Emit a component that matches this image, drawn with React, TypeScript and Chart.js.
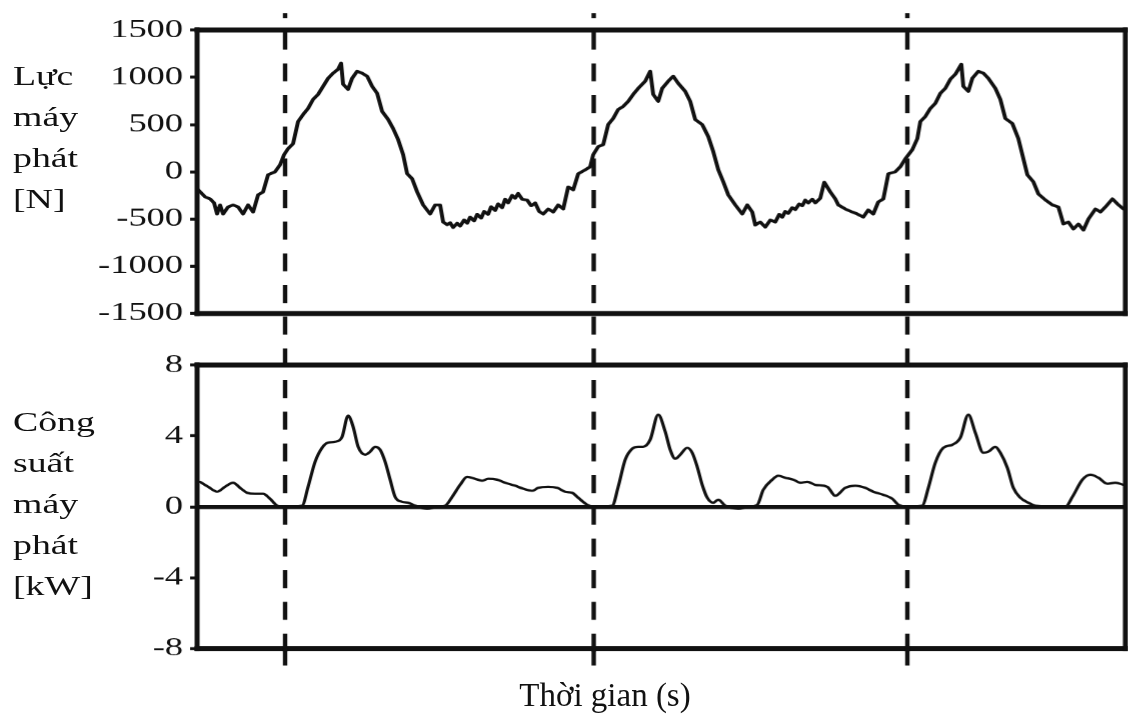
import { useEffect, useRef } from "react";
import { Chart, registerables } from "chart.js";

Chart.register(...registerables);

// Generator force, sampled time (s) and value (N)
const FORCE_T = [
  0.01, 0.08, 0.13, 0.17, 0.2, 0.23, 0.26, 0.31, 0.36, 0.41, 0.46, 0.51, 0.56, 0.61, 0.66, 0.71, 0.78, 0.83, 0.87, 0.91,
  0.96, 1.01, 1.06, 1.11, 1.16, 1.21, 1.26, 1.31, 1.36, 1.41, 1.44, 1.46, 1.51, 1.55, 1.6, 1.65, 1.7, 1.75, 1.8, 1.85,
  1.91, 1.96, 2.01, 2.06, 2.1, 2.15, 2.2, 2.26, 2.33, 2.38, 2.43, 2.46, 2.5, 2.53, 2.56, 2.6, 2.63, 2.67, 2.7, 2.73,
  2.77, 2.8, 2.84, 2.87, 2.91, 2.94, 2.98, 3.01, 3.05, 3.08, 3.11, 3.15, 3.18, 3.21, 3.25, 3.3, 3.34, 3.38, 3.42, 3.46,
  3.51, 3.56, 3.61, 3.66, 3.71, 3.76, 3.81, 3.88, 3.93, 3.96, 4.01, 4.06, 4.11, 4.16, 4.21, 4.26, 4.31, 4.36, 4.41, 4.48,
  4.53, 4.56, 4.61, 4.65, 4.71, 4.76, 4.81, 4.88, 4.93, 4.98, 5.05, 5.11, 5.16, 5.21, 5.26, 5.31, 5.38, 5.45, 5.5, 5.55,
  5.58, 5.63, 5.68, 5.73, 5.78, 5.82, 5.85, 5.88, 5.91, 5.95, 5.98, 6.02, 6.05, 6.08, 6.11, 6.15, 6.18, 6.23, 6.27, 6.33,
  6.38, 6.41, 6.48, 6.55, 6.6, 6.66, 6.71, 6.76, 6.81, 6.86, 6.91, 6.98, 7.03, 7.08, 7.15, 7.2, 7.23, 7.28, 7.33, 7.38,
  7.43, 7.48, 7.53, 7.58, 7.64, 7.66, 7.71, 7.75, 7.81, 7.86, 7.91, 7.98, 8.03, 8.08, 8.15, 8.21, 8.26, 8.3, 8.36, 8.41,
  8.48, 8.55, 8.61, 8.66, 8.71, 8.76, 8.81, 8.86, 8.91, 8.98, 9.03, 9.08, 9.15, 9.2, 9.26,
];
const FORCE_N = [
  -190, -266, -287, -330, -447, -351, -447, -372, -351, -372, -447, -351, -426, -245, -213, -32, 0, 74, 181, 245,
  298, 532, 606, 670, 766, 819, 904, 989, 1043, 1085, 1149, 926, 872, 989, 1064, 1043, 1011, 904, 830, 638,
  553, 457, 340, 181, -21, -74, -213, -351, -447, -351, -351, -532, -560, -540, -590, -545, -575, -510, -545, -480,
  -520, -450, -490, -420, -450, -370, -410, -340, -380, -290, -330, -250, -280, -230, -290, -300, -360, -330, -420, -447,
  -394, -426, -351, -394, -160, -192, -21, 21, 53, 181, 266, 287, 500, 564, 660, 692, 745, 819, 883, 958,
  1064, 819, 745, 883, 958, 1011, 936, 851, 745, 553, 500, 372, 213, 21, -106, -245, -351, -447, -351, -426,
  -564, -532, -585, -511, -532, -450, -480, -420, -440, -380, -400, -340, -360, -300, -330, -290, -330, -280, -110, -213,
  -287, -351, -394, -426, -447, -479, -404, -447, -319, -287, -21, 0, 53, 138, 234, 351, 532, 585, 670, 724,
  830, 883, 979, 1032, 1138, 904, 851, 989, 1064, 1043, 989, 883, 766, 564, 511, 351, 138, -32, -106, -234,
  -298, -351, -372, -553, -532, -606, -553, -617, -500, -394, -426, -372, -287, -340, -394,
];

// Generator power, sampled time (s) and value (kW)
const POWER_T = [
  0.03, 0.11, 0.2, 0.28, 0.36, 0.43, 0.5, 0.58, 0.66, 0.73, 0.8, 0.86, 1.05, 1.11, 1.18, 1.25, 1.31, 1.38, 1.45, 1.51,
  1.56, 1.61, 1.68, 1.73, 1.78, 1.83, 1.88, 1.93, 1.98, 2.05, 2.11, 2.18, 2.3, 2.4, 2.48, 2.55, 2.63, 2.7, 2.78, 2.85,
  2.91, 3.0, 3.08, 3.18, 3.26, 3.35, 3.41, 3.51, 3.6, 3.68, 3.75, 3.81, 3.9, 3.96, 4.15, 4.21, 4.28, 4.35, 4.41, 4.46,
  4.53, 4.61, 4.68, 4.73, 4.78, 4.83, 4.9, 4.95, 5.0, 5.05, 5.1, 5.16, 5.21, 5.28, 5.41, 5.51, 5.6, 5.66, 5.75, 5.81,
  5.88, 5.96, 6.03, 6.1, 6.18, 6.3, 6.38, 6.48, 6.58, 6.68, 6.76, 6.86, 6.95, 7.01, 7.1, 7.25, 7.31, 7.38, 7.46, 7.55,
  7.63, 7.71, 7.78, 7.86, 7.91, 7.98, 8.03, 8.1, 8.16, 8.23, 8.31, 8.38, 8.68, 8.75, 8.85, 8.93, 9.01, 9.1, 9.18, 9.26,
];
const POWER_KW = [
  1.41, 1.13, 0.85, 1.13, 1.36, 1.07, 0.79, 0.73, 0.73, 0.45, 0.06, 0, 0.06, 1.13, 2.54, 3.33, 3.62, 3.67, 3.95, 5.14,
  4.52, 3.39, 2.94, 3.11, 3.39, 3.22, 2.54, 1.53, 0.56, 0.28, 0.23, 0.06, -0.11, 0, 0.06, 0.56, 1.24, 1.69, 1.58, 1.47,
  1.58, 1.53, 1.36, 1.19, 1.02, 0.9, 1.07, 1.13, 1.07, 0.85, 0.79, 0.51, 0.11, 0, 0.06, 1.13, 2.66, 3.28, 3.39, 3.39,
  3.79, 5.2, 4.24, 3.22, 2.71, 2.94, 3.33, 3.05, 2.26, 1.24, 0.51, 0.23, 0.4, 0.06, -0.11, 0, 0.11, 0.96, 1.53, 1.75,
  1.64, 1.53, 1.36, 1.41, 1.24, 1.13, 0.62, 1.07, 1.19, 1.07, 0.85, 0.68, 0.45, 0.11, 0, 0.06, 1.07, 2.49, 3.33, 3.5,
  3.9, 5.2, 4.18, 3.05, 3.11, 3.39, 3.05, 2.2, 1.07, 0.51, 0.23, 0.06, 0, 0.56, 1.53, 1.81, 1.64, 1.3, 1.36, 1.24,
];

// Start of each cycle, marked by the dashed verticals
const CYCLE_MARKS_T = [0.88, 3.965, 7.1];

const TIME_MIN = 0;
const TIME_MAX = 9.28;

const FORCE_MIN = -1500;
const FORCE_MAX = 1500;
const FORCE_STEP = 500;
const POWER_MIN = -8;
const POWER_MAX = 8;
const POWER_STEP = 4;

const FORCE_LABEL = ["Lực", "máy", "phát", "[N]"];
const POWER_LABEL = ["Công", "suất", "máy", "phát", "[kW]"];
const TIME_LABEL = "Thời gian (s)";

// The figure is drawn narrow and widened with a horizontal scale.
const STRETCH = 1.4;
const PAGE_W = 1128;
const PAGE_H = 721;
const INNER_W = PAGE_W / STRETCH;
const CANVAS_W = 806;
const PLOT_LEFT = 197 / STRETCH;
const PLOT_RIGHT = 1125 / STRETCH;

const INK = "#111";
const SERIF = '"Liberation Serif", "Times New Roman", Times, serif';
const DASH = [18, 13.667];
const DASH_PERIOD = DASH[0] + DASH[1];

type FrameOpts = { pageTop: number; markFrom: number; toCanvasEnd: boolean; tickBelow: number };

function framePlugin(o: FrameOpts) {
  return {
    id: "frame",
    afterDraw(chart: any) {
      const { ctx, chartArea: a, scales } = chart;
      ctx.save();
      ctx.fillStyle = INK;
      const hw = 5;
      const vw = 5 / STRETCH;
      ctx.fillRect(a.left - vw / 2, a.top - hw / 2, a.right - a.left + vw, hw);
      ctx.fillRect(a.left - vw / 2, a.bottom - hw / 2, a.right - a.left + vw, hw);
      ctx.fillRect(a.left - vw / 2, a.top - hw / 2, vw, a.bottom - a.top + hw);
      ctx.fillRect(a.right - vw / 2, a.top - hw / 2, vw, a.bottom - a.top + hw);

      ctx.strokeStyle = INK;
      ctx.lineWidth = 4.4 / STRETCH;
      ctx.lineCap = "butt";
      const yEnd = o.toCanvasEnd ? chart.height : a.bottom + 3;
      for (const t of CYCLE_MARKS_T) {
        const x = scales.x.getPixelForValue(t);
        ctx.setLineDash(DASH);
        ctx.lineDashOffset = (o.pageTop + o.markFrom) % DASH_PERIOD;
        ctx.beginPath();
        ctx.moveTo(x, o.markFrom);
        ctx.lineTo(x, yEnd);
        ctx.stroke();
        if (o.tickBelow > 0) {
          ctx.setLineDash([]);
          ctx.beginPath();
          ctx.moveTo(x, a.bottom);
          ctx.lineTo(x, a.bottom + o.tickBelow);
          ctx.stroke();
        }
      }
      ctx.restore();
    },
  };
}

function panelConfig(
  times: number[],
  values: number[],
  yMin: number,
  yMax: number,
  yStep: number,
  padTop: number,
  padBottom: number,
  zeroLine: boolean,
  smooth: boolean,
  frame: FrameOpts
): any {
  return {
    type: "line",
    data: {
      datasets: [
        {
          data: times.map((t, i) => ({ x: t, y: values[i] })),
          borderColor: INK,
          borderWidth: smooth ? 2.3 : 2.8,
          pointRadius: 0,
          tension: smooth ? 0.4 : 0,
          cubicInterpolationMode: smooth ? "monotone" : "default",
          borderJoinStyle: "round",
          borderCapStyle: "round",
          fill: false,
        },
      ],
    },
    options: {
      responsive: false,
      animation: false,
      devicePixelRatio: STRETCH,
      layout: { padding: { left: 0, right: CANVAS_W - PLOT_RIGHT, top: padTop, bottom: padBottom } },
      plugins: { legend: { display: false }, tooltip: { enabled: false } },
      scales: {
        x: { type: "linear", min: TIME_MIN, max: TIME_MAX, display: false },
        y: {
          type: "linear",
          min: yMin,
          max: yMax,
          afterFit: (axis: any) => {
            axis.width = PLOT_LEFT;
          },
          border: { display: false },
          grid: {
            drawOnChartArea: zeroLine,
            color: (c: any) => (zeroLine && c.tick && c.tick.value === 0 ? INK : "rgba(0,0,0,0)"),
            lineWidth: 4,
            drawTicks: true,
            tickLength: 5,
            tickWidth: 3,
            tickColor: INK,
          },
          ticks: {
            stepSize: yStep,
            color: INK,
            padding: 5,
            font: { family: SERIF, size: 26 },
            callback: (v: any) => String(v),
          },
        },
      },
    },
    plugins: [framePlugin(frame)],
  };
}

function Panel({ top, height, make }: { top: number; height: number; make: () => any }) {
  const ref = useRef<HTMLCanvasElement | null>(null);
  useEffect(() => {
    if (!ref.current) return;
    const chart = new Chart(ref.current, make());
    return () => chart.destroy();
  }, []);
  return (
    <canvas
      ref={ref}
      width={CANVAS_W}
      height={height}
      style={{ position: "absolute", left: 0, top, width: CANVAS_W, height }}
    />
  );
}

function AxisLabel({ lines, top }: { lines: string[]; top: number }) {
  return (
    <div
      style={{
        position: "absolute",
        left: 13 / STRETCH,
        top,
        fontFamily: SERIF,
        fontSize: 27,
        lineHeight: "41px",
        color: INK,
        whiteSpace: "nowrap",
      }}
    >
      {lines.map((l) => (
        <div key={l}>{l}</div>
      ))}
    </div>
  );
}

export default function App() {
  return (
    <div
      style={{
        position: "fixed",
        left: 0,
        top: 0,
        width: PAGE_W,
        height: PAGE_H,
        overflow: "hidden",
        background: "#fff",
      }}
    >
      <div
        style={{
          position: "absolute",
          left: 0,
          top: 0,
          width: INNER_W,
          height: PAGE_H,
          transform: `scaleX(${STRETCH})`,
          transformOrigin: "0 0",
        }}
      >
        <Panel
          top={0}
          height={340}
          make={() =>
            panelConfig(FORCE_T, FORCE_N, FORCE_MIN, FORCE_MAX, FORCE_STEP, 30, 26.5, false, false, {
              pageTop: 0,
              markFrom: 13,
              toCanvasEnd: true,
              tickBelow: 0,
            })
          }
        />
        <Panel
          top={340}
          height={381}
          make={() =>
            panelConfig(POWER_T, POWER_KW, POWER_MIN, POWER_MAX, POWER_STEP, 25, 72.7, true, true, {
              pageTop: 340,
              markFrom: 0,
              toCanvasEnd: false,
              tickBelow: 17,
            })
          }
        />
        <AxisLabel lines={FORCE_LABEL} top={56.4} />
        <AxisLabel lines={POWER_LABEL} top={402.4} />
      </div>
      <div
        style={{
          position: "absolute",
          left: 605,
          top: 679.4,
          transform: "translateX(-50%)",
          fontFamily: SERIF,
          fontSize: 33,
          lineHeight: "33px",
          color: INK,
          whiteSpace: "nowrap",
        }}
      >
        {TIME_LABEL}
      </div>
    </div>
  );
}
